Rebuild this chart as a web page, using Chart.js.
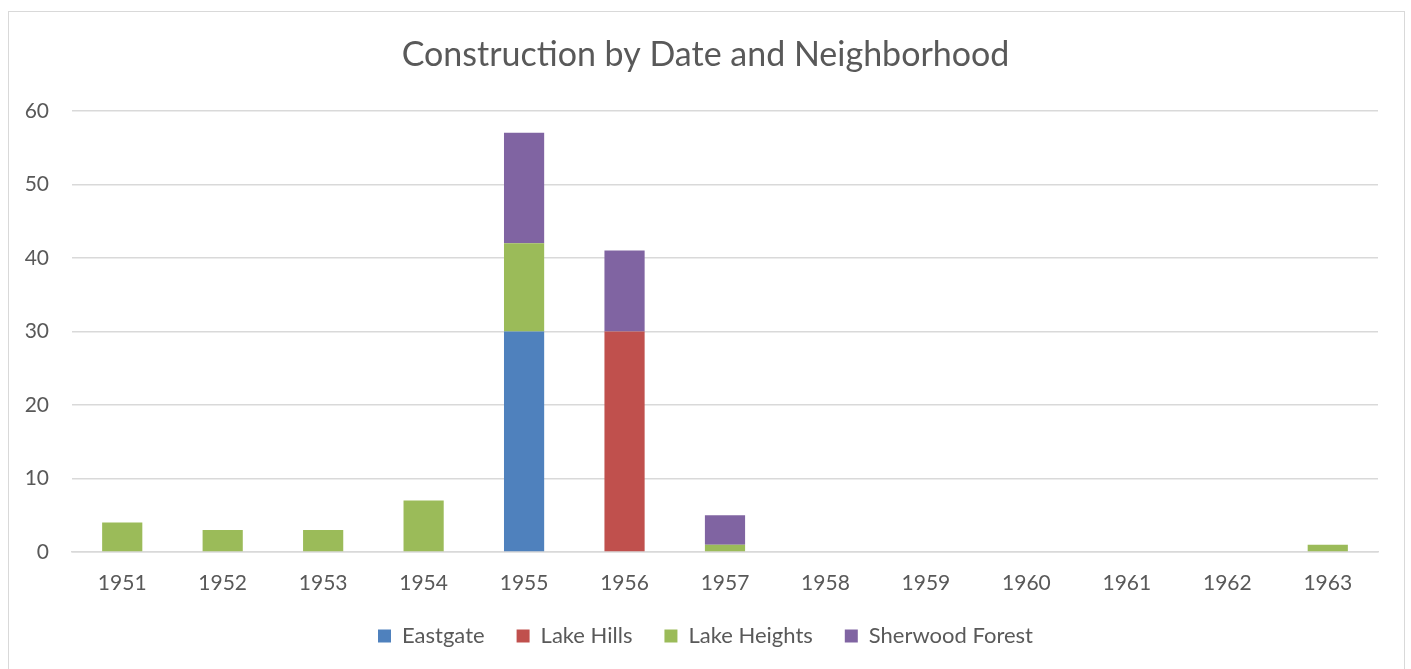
<!DOCTYPE html>
<html>
<head>
<meta charset="utf-8">
<script src="https://cdn.jsdelivr.net/npm/chart.js@4.4.1/dist/chart.umd.min.js"></script>
<style>
  html, body { margin: 0; padding: 0; background: #fff; }
  #frame {
    position: absolute; left: 8px; top: 11px; width: 1397px; height: 670px;
    border: 1px solid #d9d9d9; box-sizing: border-box; background: #fff;
  }
  #wrap { position: absolute; left: 0; top: 0; width: 1411px; height: 669px; }
</style>
</head>
<body>
<div id="frame"></div>
<div id="wrap"><canvas id="c" width="1411" height="669"></canvas></div>
<script>
const years = ['1951','1952','1953','1954','1955','1956','1957','1958','1959','1960','1961','1962','1963'];
const eastgate      = [0, 0, 0, 0, 30, 0, 0, 0, 0, 0, 0, 0, 0];
const lakeHills     = [0, 0, 0, 0, 0, 30, 0, 0, 0, 0, 0, 0, 0];
const lakeHeights   = [4, 3, 3, 7, 12, 0, 1, 0, 0, 0, 0, 0, 1];
const sherwoodForest= [0, 0, 0, 0, 15, 11, 4, 0, 0, 0, 0, 0, 0];
const yTicks = { min: 0, max: 60, step: 10 };

const FONT = 'Lato, "Open Sans", sans-serif';
const TEXT = '#595959';

function ds(label, data, color) {
  return {
    label, data, backgroundColor: color, borderWidth: 0,
    categoryPercentage: 1.0, barPercentage: 0.4
  };
}

new Chart(document.getElementById('c'), {
  type: 'bar',
  data: {
    labels: years,
    datasets: [
      ds('Eastgate', eastgate, '#4F81BD'),
      ds('Lake Hills', lakeHills, '#C0504D'),
      ds('Lake Heights', lakeHeights, '#9BBB59'),
      ds('Sherwood Forest', sherwoodForest, '#8064A2')
    ]
  },
  options: {
    responsive: false,
    animation: false,
    devicePixelRatio: 1,
    layout: { padding: { left: 10, right: 10, top: 35, bottom: 12 } },
    plugins: {
      title: {
        display: true,
        text: 'Construction by Date and Neighborhood',
        color: TEXT,
        font: { family: FONT, size: 34, weight: 'normal' },
        padding: { top: 0, bottom: 35 }
      },
      legend: {
        position: 'bottom',
        labels: {
          color: TEXT,
          font: { family: FONT, size: 22 },
          boxWidth: 13, boxHeight: 13,
          padding: 32
        }
      },
      tooltip: { enabled: false }
    },
    scales: {
      x: {
        stacked: true,
        // fixed axis box height so the legend sits close beneath the labels
        afterFit: (scale) => { scale.height = 41; },
        grid: { display: false, drawTicks: false },
        border: { display: true, color: '#d9d9d9', width: 1.5 },
        ticks: { color: TEXT, font: { family: FONT, size: 21 }, padding: 19, maxRotation: 0 }
      },
      y: {
        stacked: true,
        min: yTicks.min, max: yTicks.max,
        afterFit: (scale) => { scale.width = 62; },
        grid: { color: '#d9d9d9', lineWidth: 1.5, drawTicks: false },
        border: { display: false },
        ticks: { stepSize: yTicks.step, color: TEXT, font: { family: FONT, size: 21 }, padding: 23 }
      },
      // empty right-hand margin axis keeps the plot area balanced
      yRight: {
        position: 'right',
        afterFit: (scale) => { scale.width = 23; },
        grid: { display: false, drawTicks: false },
        border: { display: false },
        ticks: { display: false }
      }
    }
  }
});
</script>
</body>
</html>
